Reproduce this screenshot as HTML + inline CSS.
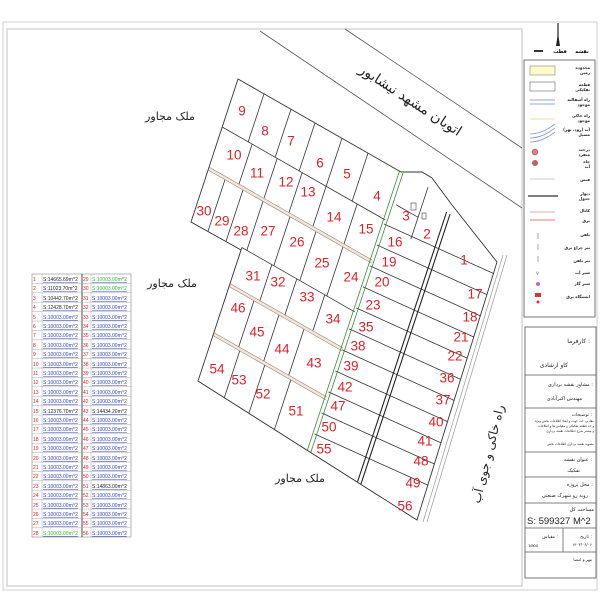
<!DOCTYPE html>
<html><head><meta charset="utf-8"><style>
body{margin:0;background:#fff;}
svg{display:block;font-family:"Liberation Sans","DejaVu Sans",sans-serif;}
.n{fill:#d8232a;font-size:13.5px;text-anchor:middle;dominant-baseline:middle;}
.fa{font-family:"DejaVu Sans",sans-serif;}
</style></head><body>
<svg width="600" height="600" viewBox="0 0 600 600" xmlns="http://www.w3.org/2000/svg">
<rect width="600" height="600" fill="#fff"/>
<rect x="3" y="22" width="594" height="568" fill="none" stroke="#cfcfcf" stroke-width="1"/>
<rect x="7" y="29" width="515" height="557" fill="none" stroke="#d5d5d5" stroke-width="1.5"/>

<line x1="345" y1="29" x2="522" y2="148" stroke="#555" stroke-width="0.8"/>
<line x1="260" y1="31" x2="522" y2="208" stroke="#555" stroke-width="0.8"/>
<text class="fa" x="408" y="104" font-size="14" text-anchor="middle" transform="rotate(33 408 104)" fill="#222">اتوبان مشهد نیشابور</text>

<line x1="503" y1="255" x2="423" y2="522" stroke="#999" stroke-width="0.7"/>
<line x1="507" y1="255" x2="427" y2="522" stroke="#999" stroke-width="0.7"/>
<text class="fa" x="492" y="455" font-size="12" text-anchor="middle" transform="rotate(-76 492 455)" fill="#222">راه خاکی و جوی آب</text>

<text class="fa" x="170" y="120" font-size="11" text-anchor="middle" fill="#222">ملک مجاور</text>
<text class="fa" x="172" y="287" font-size="11" text-anchor="middle" fill="#222">ملک مجاور</text>
<text class="fa" x="300" y="482" font-size="11" text-anchor="middle" fill="#222">ملک مجاور</text>

<defs>
<clipPath id="blk"><polygon points="238,79 401,172 410,172 422,172 432,178 452,205 497,262 417,520 198,381 241,250 191,222"/></clipPath>
</defs>
<g clip-path="url(#blk)">
<g transform="matrix(1,0.57,-0.33,1,238,79)" fill="none" stroke="#333" stroke-width="0.8">
<rect x="-5" y="88" width="170" height="3" fill="#efe6de" stroke="none"/>
<rect x="50" y="176" width="113" height="3" fill="#efe6de" stroke="none"/>
<rect x="50" y="225" width="113" height="3" fill="#efe6de" stroke="none"/>
<path vector-effect="non-scaling-stroke" d="M0,48H163 M0,143H50 M50,140H163
M26,0V48 M53,0V48 M77,0V48 M104,0V48 M130,0V48
M30,48V88 M55,48V88 M80,48V88 M104,48V88 M135,48V88
M17,91V143 M35,91V143 M55,91V140 M82,91V140 M108,91V140 M135,91V140
M80,140V176 M105,140V176 M133,140V176
M75,179V225 M100,179V225 M125,179V225
M77,228V290 M102,228V290 M128,228V290
M50,140V290
M190,0V52 M168,30H190"/>
<path vector-effect="non-scaling-stroke" stroke="#9a8678" stroke-width="0.6" d="M-5,88H163 M-5,91H163 M50,176H163 M50,179H163 M50,225H163 M50,228H163"/>
<path vector-effect="non-scaling-stroke" d="M163,52L280,40 M163,73L280,61 M163,94L280,82 M163,115L280,103 M163,136L280,124 M163,157L280,145 M163,178L280,166 M163,199L280,187 M163,220L280,208 M163,241L280,229 M163,262L280,250"/>
<path vector-effect="non-scaling-stroke" stroke="#3a8a3a" d="M161.5,0V300 M165,0V300"/>
<path vector-effect="non-scaling-stroke" stroke="#222" stroke-width="1.1" d="M212.5,12V300 M216,12V300"/>
</g>
</g>
<polygon points="238,79 401,172 410,172 422,172 432,178 452,205 497,262 417,520 198,381 241,250 191,222" fill="none" stroke="#333" stroke-width="0.9"/>
<rect x="411" y="203" width="5" height="7" fill="none" stroke="#444" stroke-width="0.6"/>
<rect x="422" y="213" width="4" height="6" fill="none" stroke="#444" stroke-width="0.6"/>

<g>
<text class="n" x="242" y="112">9</text><text class="n" x="265" y="132">8</text><text class="n" x="291" y="142">7</text><text class="n" x="320" y="164">6</text><text class="n" x="347" y="175">5</text><text class="n" x="377" y="197">4</text>
<text class="n" x="406" y="217">3</text><text class="n" x="427" y="235">2</text><text class="n" x="464" y="261">1</text>
<text class="n" x="234" y="156">10</text><text class="n" x="257" y="174">11</text><text class="n" x="286" y="183">12</text><text class="n" x="308" y="193">13</text><text class="n" x="334" y="218">14</text><text class="n" x="366" y="230">15</text><text class="n" x="395" y="243">16</text>
<text class="n" x="204" y="212">30</text><text class="n" x="222" y="222">29</text><text class="n" x="241" y="232">28</text><text class="n" x="268" y="232">27</text><text class="n" x="297" y="243">26</text><text class="n" x="322" y="264">25</text><text class="n" x="351" y="278">24</text>
<text class="n" x="389" y="263">19</text><text class="n" x="382" y="283">20</text><text class="n" x="373" y="306">23</text><text class="n" x="366" y="328">35</text><text class="n" x="358" y="347">38</text><text class="n" x="351" y="367">39</text><text class="n" x="345" y="388">42</text><text class="n" x="338" y="407">47</text><text class="n" x="329" y="428">50</text><text class="n" x="324" y="450">55</text>
<text class="n" x="475" y="295">17</text><text class="n" x="470" y="318">18</text><text class="n" x="461" y="338">21</text><text class="n" x="455" y="357">22</text><text class="n" x="447" y="379">36</text><text class="n" x="443" y="401">37</text><text class="n" x="436" y="423">40</text><text class="n" x="425" y="442">41</text><text class="n" x="421" y="462">48</text><text class="n" x="413" y="484">49</text><text class="n" x="405" y="507">56</text>
<text class="n" x="253" y="277">31</text><text class="n" x="278" y="283">32</text><text class="n" x="307" y="298">33</text><text class="n" x="333" y="320">34</text>
<text class="n" x="238" y="309">46</text><text class="n" x="257" y="333">45</text><text class="n" x="282" y="350">44</text><text class="n" x="314" y="364">43</text>
<text class="n" x="217" y="370">54</text><text class="n" x="239" y="381">53</text><text class="n" x="263" y="395">52</text><text class="n" x="296" y="412">51</text>
</g>

<g font-size="5" stroke="none">
<rect x="32" y="274" width="99" height="263" fill="#fff" stroke="#888" stroke-width="0.6"/>
<g stroke="#999" stroke-width="0.4">
<line x1="42" y1="274" x2="42" y2="537"/><line x1="82" y1="274" x2="82" y2="537" stroke="#222" stroke-width="0.8"/><line x1="91" y1="274" x2="91" y2="537"/>
<line x1="32" y1="283.4" x2="131" y2="283.4"/><line x1="32" y1="292.8" x2="131" y2="292.8"/><line x1="32" y1="302.2" x2="131" y2="302.2"/><line x1="32" y1="311.6" x2="131" y2="311.6"/><line x1="32" y1="321" x2="131" y2="321"/><line x1="32" y1="330.4" x2="131" y2="330.4"/><line x1="32" y1="339.8" x2="131" y2="339.8"/><line x1="32" y1="349.2" x2="131" y2="349.2"/><line x1="32" y1="358.6" x2="131" y2="358.6"/><line x1="32" y1="368" x2="131" y2="368"/><line x1="32" y1="377.4" x2="131" y2="377.4"/><line x1="32" y1="386.8" x2="131" y2="386.8"/><line x1="32" y1="396.2" x2="131" y2="396.2"/><line x1="32" y1="405.6" x2="131" y2="405.6"/><line x1="32" y1="415" x2="131" y2="415"/><line x1="32" y1="424.4" x2="131" y2="424.4"/><line x1="32" y1="433.8" x2="131" y2="433.8"/><line x1="32" y1="443.2" x2="131" y2="443.2"/><line x1="32" y1="452.6" x2="131" y2="452.6"/><line x1="32" y1="462" x2="131" y2="462"/><line x1="32" y1="471.4" x2="131" y2="471.4"/><line x1="32" y1="480.8" x2="131" y2="480.8"/><line x1="32" y1="490.2" x2="131" y2="490.2"/><line x1="32" y1="499.6" x2="131" y2="499.6"/><line x1="32" y1="509" x2="131" y2="509"/><line x1="32" y1="518.4" x2="131" y2="518.4"/><line x1="32" y1="527.8" x2="131" y2="527.8"/>
</g>
<g fill="#d8232a">
<text x="33" y="281">1</text><text x="33" y="290">2</text><text x="33" y="300">3</text><text x="33" y="309">4</text><text x="33" y="319">5</text><text x="33" y="328">6</text><text x="33" y="337">7</text><text x="33" y="347">8</text><text x="33" y="356">9</text><text x="33" y="366">10</text><text x="33" y="375">11</text><text x="33" y="384">12</text><text x="33" y="394">13</text><text x="33" y="403">14</text><text x="33" y="413">15</text><text x="33" y="422">16</text><text x="33" y="431">17</text><text x="33" y="441">18</text><text x="33" y="450">19</text><text x="33" y="460">20</text><text x="33" y="469">21</text><text x="33" y="478">22</text><text x="33" y="488">23</text><text x="33" y="497">24</text><text x="33" y="507">25</text><text x="33" y="516">26</text><text x="33" y="525">27</text><text x="33" y="535">28</text>
<text x="83" y="281">29</text><text x="83" y="290">30</text><text x="83" y="300">31</text><text x="83" y="309">32</text><text x="83" y="319">33</text><text x="83" y="328">34</text><text x="83" y="337">35</text><text x="83" y="347">36</text><text x="83" y="356">37</text><text x="83" y="366">38</text><text x="83" y="375">39</text><text x="83" y="384">40</text><text x="83" y="394">41</text><text x="83" y="403">42</text><text x="83" y="413">43</text><text x="83" y="422">44</text><text x="83" y="431">45</text><text x="83" y="441">46</text><text x="83" y="450">47</text><text x="83" y="460">48</text><text x="83" y="469">49</text><text x="83" y="478">50</text><text x="83" y="488">51</text><text x="83" y="497">52</text><text x="83" y="507">53</text><text x="83" y="516">54</text><text x="83" y="525">55</text><text x="83" y="535">56</text>
</g>
<g fill="#3344bb" text-decoration="underline">
<text x="43" y="281" fill="#222">S:14665.69m^2</text><text x="43" y="290" fill="#222">S:11023.70m^2</text><text x="43" y="300" fill="#222">S:10442.70m^2</text><text x="43" y="309" fill="#222">S:12428.70m^2</text>
<text x="43" y="319">S:10003.00m^2</text><text x="43" y="328">S:10003.00m^2</text><text x="43" y="337">S:10003.00m^2</text><text x="43" y="347">S:10003.00m^2</text><text x="43" y="356">S:10003.00m^2</text><text x="43" y="366">S:10003.00m^2</text><text x="43" y="375">S:10003.00m^2</text><text x="43" y="384">S:10003.00m^2</text><text x="43" y="394">S:10003.00m^2</text><text x="43" y="403">S:10003.00m^2</text><text x="43" y="413" fill="#222">S:12376.70m^2</text><text x="43" y="422">S:10003.00m^2</text><text x="43" y="431">S:10003.00m^2</text><text x="43" y="441">S:10003.00m^2</text><text x="43" y="450">S:10003.00m^2</text><text x="43" y="460">S:10003.00m^2</text><text x="43" y="469">S:10003.00m^2</text><text x="43" y="478">S:10003.00m^2</text><text x="43" y="488">S:10003.00m^2</text><text x="43" y="497">S:10003.00m^2</text><text x="43" y="507">S:10003.00m^2</text><text x="43" y="516">S:10003.00m^2</text><text x="43" y="525">S:10003.00m^2</text><text x="43" y="535" fill="#33bb33">S:10003.00m^2</text>
<text x="92" y="281" fill="#33bb33">S:10003.00m^2</text><text x="92" y="290" fill="#33bb33">S:10003.00m^2</text><text x="92" y="300">S:10003.00m^2</text><text x="92" y="309">S:10003.00m^2</text><text x="92" y="319">S:10003.00m^2</text><text x="92" y="328">S:10003.00m^2</text><text x="92" y="337">S:10003.00m^2</text><text x="92" y="347">S:10003.00m^2</text><text x="92" y="356">S:10003.00m^2</text><text x="92" y="366">S:10003.00m^2</text><text x="92" y="375">S:10003.00m^2</text><text x="92" y="384">S:10003.00m^2</text><text x="92" y="394">S:10003.00m^2</text><text x="92" y="403">S:10003.00m^2</text><text x="92" y="413" fill="#222">S:14434.20m^2</text><text x="92" y="422">S:10003.00m^2</text><text x="92" y="431">S:10003.00m^2</text><text x="92" y="441">S:10003.00m^2</text><text x="92" y="450">S:10003.00m^2</text><text x="92" y="460">S:10003.00m^2</text><text x="92" y="469">S:10003.00m^2</text><text x="92" y="478">S:10003.00m^2</text><text x="92" y="488" fill="#222">S:14863.00m^2</text><text x="92" y="497">S:10003.00m^2</text><text x="92" y="507">S:10003.00m^2</text><text x="92" y="516">S:10003.00m^2</text><text x="92" y="525">S:10003.00m^2</text><text x="92" y="535">S:10003.00m^2</text>
</g>
</g>

<line x1="558" y1="23" x2="558" y2="46" stroke="#222" stroke-width="1.2"/>
<polygon points="558,33 556,46 560,46" fill="#222"/>
<rect x="534" y="50" width="9" height="2" fill="#333"/>
<text class="fa" x="560" y="53" font-size="5" font-weight="bold" text-anchor="middle">قطب</text>
<text class="fa" x="582" y="53" font-size="5" font-weight="bold" text-anchor="middle">نقشه</text>

<rect x="524" y="60" width="71" height="257" fill="none" stroke="#555" stroke-width="0.8"/>
<rect x="530" y="66" width="25" height="9" fill="#fdfbc8" stroke="#888" stroke-width="0.6"/>
<rect x="530" y="82" width="25" height="9" fill="#fff" stroke="#666" stroke-width="0.6"/>
<line x1="530" y1="100" x2="555" y2="100" stroke="#98a4d0" stroke-width="1"/><line x1="530" y1="104" x2="555" y2="104" stroke="#98a4d0" stroke-width="1"/>
<line x1="530" y1="119" x2="555" y2="119" stroke="#e8e0a8" stroke-width="1"/>
<path d="M530,134 Q542,134 555,124 M530,138 Q542,138 555,128 M530,142 Q542,142 555,132" fill="none" stroke="#8a96cc" stroke-width="0.8"/>
<circle cx="535" cy="152" r="3" fill="#d98080" stroke="#a33" stroke-width="0.5"/>
<circle cx="535" cy="163" r="3" fill="#c06060"/>
<line x1="530" y1="179" x2="555" y2="179" stroke="#bbb" stroke-width="0.8"/>
<line x1="528" y1="196" x2="558" y2="196" stroke="#555" stroke-width="1.4"/>
<line x1="530" y1="212" x2="555" y2="212" stroke="#c99" stroke-width="0.8"/>
<line x1="530" y1="220" x2="555" y2="220" stroke="#d55" stroke-width="0.8"/>
<line x1="538" y1="233" x2="538" y2="239" stroke="#aaa"/><line x1="538" y1="244" x2="538" y2="250" stroke="#aaa"/><line x1="538" y1="256" x2="538" y2="262" stroke="#aaa"/>
<text x="536" y="275" font-size="6" fill="#4b4">v</text>
<circle cx="538" cy="284" r="2" fill="#b6b"/>
<rect x="535" y="293" width="6" height="4" fill="#d33"/><circle cx="538" cy="302" r="1.5" fill="#d33"/>
<g class="fa" font-size="4" fill="#222" text-anchor="end" font-weight="bold">
<text x="590" y="69">محدوده</text><text x="590" y="74">زمین</text>
<text x="590" y="86">قطعه</text><text x="590" y="91">تفکیکی</text>
<text x="590" y="101">راه آسفالته</text><text x="590" y="106">موجود</text>
<text x="590" y="117">راه خاکی</text><text x="590" y="122">موجود</text>
<text x="590" y="131">آب (رود، نهر)</text><text x="590" y="136">مسیل</text>
<text x="590" y="151">درخت</text><text x="590" y="156">منفرد</text>
<text x="590" y="163">چاه</text><text x="590" y="168">آب</text>
<text x="590" y="181">فنس</text>
<text x="590" y="195">دیوار</text><text x="590" y="200">جدول</text>
<text x="590" y="212">کانال</text><text x="590" y="222">برق</text>
<text x="590" y="236">تلفن</text>
<text x="590" y="249">تیر چراغ برق</text>
<text x="590" y="262">تیر تلفن</text>
<text x="590" y="274">شیر آب</text>
<text x="590" y="285">شیر گاز</text>
<text x="590" y="298">ایستگاه برق</text>
</g>

<rect x="525" y="327" width="71" height="251" fill="none" stroke="#555" stroke-width="0.8"/>
<g stroke="#555" stroke-width="0.7">
<line x1="525" y1="375" x2="596" y2="375"/><line x1="525" y1="408" x2="596" y2="408"/><line x1="525" y1="452" x2="596" y2="452"/><line x1="525" y1="477" x2="596" y2="477"/><line x1="525" y1="503" x2="596" y2="503"/><line x1="525" y1="528" x2="596" y2="528"/><line x1="525" y1="552" x2="596" y2="552"/><line x1="563" y1="528" x2="563" y2="552"/>
</g>
<g class="fa" fill="#222" text-anchor="end">
<text x="590" y="343" font-size="6">کارفرما :</text>
<text x="568" y="367" font-size="6">کاو ارشادی</text>
<text x="593" y="386" font-size="5">مشاور نقشه برداری :</text>
<text x="582" y="400" font-size="5">مهندس اکبرآبادی</text>
<text x="592" y="416" font-size="4.5">توضیحات :</text>
<text x="594" y="422" font-size="3.2">مقادیر، حد، جهت و ابعاد اطلاعات بخش ویژه</text>
<text x="594" y="427" font-size="3.2">و حد قطعه تفکیکی و مقیاس ها و اطلاعات</text>
<text x="594" y="432" font-size="3.2">و بیشتر شرح اطلاعات نقشه برداری</text>
<text x="594" y="445" font-size="3.2">مصوبه نقشه برداری اطلاعات بخش</text>
<text x="592" y="461" font-size="5">عنوان نقشه :</text>
<text x="580" y="472" font-size="5">تفکیک</text>
<text x="593" y="486" font-size="5">محل پروژه :</text>
<text x="588" y="497" font-size="5">روبه رو شهرک صنعتی</text>
<text x="594" y="511" font-size="5">مساحت کل</text>
<text x="592" y="538" font-size="4.5">تاریخ :</text>
<text x="592" y="546" font-size="4">۱۴۰۳/۰۶/۰۶</text>
<text x="558" y="538" font-size="4.5">مقیاس :</text>
<text x="592" y="561" font-size="4">مهر و امضا</text>
</g>
<text x="527" y="524" font-size="9.5" fill="#222">S: 599327 M^2</text>
<text x="528" y="547" font-size="4" fill="#222">1/800</text>
</svg>
</body></html>
